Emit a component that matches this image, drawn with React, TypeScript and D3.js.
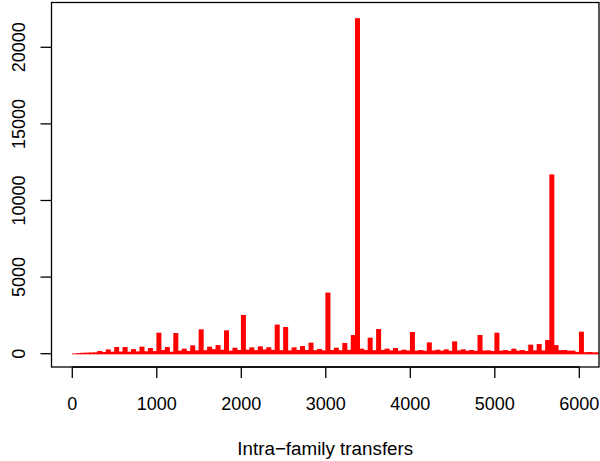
import React from "react";
import * as d3 from "d3";

// Bin starts (hundreds); each hundred holds two 50-wide bins
const hundreds = [
  0, 100, 200, 300, 400, 500, 600, 700, 800, 900,
  1000, 1100, 1200, 1300, 1400, 1500, 1600, 1700, 1800, 1900,
  2000, 2100, 2200, 2300, 2400, 2500, 2600, 2700, 2800, 2900,
  3000, 3100, 3200, 3300, 3400, 3500, 3600, 3700, 3800, 3900,
  4000, 4100, 4200, 4300, 4400, 4500, 4600, 4700, 4800, 4900,
  5000, 5100, 5200, 5300, 5400, 5500, 5600, 5700, 5800, 5900,
  6000, 6100, 6200,
];
// counts for bins [h, h+50)
const roundCounts = [
  15, 60, 80, 175, 280, 435, 435, 300, 460, 370,
  1370, 435, 1350, 330, 545, 1590, 460, 565, 1525, 390,
  2530, 415, 480, 420, 1900, 1745, 415, 500, 720, 305,
  3990, 390, 700, 1220, 330, 1045, 1610, 330, 370, 260,
  1415, 240, 740, 260, 285, 805, 285, 240, 1220, 220,
  1370, 240, 330, 240, 590, 630, 895, 565, 240, 200,
  1440, 110, 90,
];
// counts for bins [h+50, h+100)
const offCounts = [
  40, 70, 90, 110, 130, 140, 130, 150, 160, 170,
  240, 130, 200, 180, 220, 230, 300, 260, 200, 240,
  260, 230, 280, 250, 230, 220, 250, 240, 230, 220,
  240, 230, 250, 21900, 240, 230, 250, 220, 200, 210,
  200, 190, 210, 200, 190, 220, 200, 190, 210, 180,
  200, 190, 200, 180, 220, 210, 11700, 230, 200, 120,
  100, 90, 80,
];
const xTicks = [0, 1000, 2000, 3000, 4000, 5000, 6000];
const yTicks = [0, 5000, 10000, 15000, 20000];
const xTitle = "Intra\u2212family transfers";

const W = 600, H = 461;
const left = 51.5, right = 599, top = 2.5, bottom = 367;

export default function App() {
  const x = d3.scaleLinear().domain([-246, 6233]).range([left, right]);
  const y = d3.scaleLinear().domain([-868, 22923]).range([bottom, top]);
  const bins: { mid: number; v: number }[] = [];
  hundreds.forEach((h, i) => {
    bins.push({ mid: h + 25, v: roundCounts[i] });
    bins.push({ mid: h + 75, v: offCounts[i] });
  });
  const font = "'Liberation Sans', Arial, Helvetica, sans-serif";
  const bw = 5;
  return (
    <svg width={W} height={H} style={{ position: "absolute", left: 0, top: 0, background: "#fff" }} fontFamily={font}>
      <defs>
        <clipPath id="plotclip">
          <rect x={left} y={top} width={right - left} height={bottom - top} />
        </clipPath>
      </defs>
      <g clipPath="url(#plotclip)" fill="#ff0000">
        {bins.map((b, i) => (
          <rect key={i} x={x(b.mid) - bw / 2} width={bw} y={y(b.v)} height={y(0) - y(b.v) + 0.6} />
        ))}
      </g>
      <rect x={left} y={top} width={right - left} height={bottom - top} fill="none" stroke="#000" strokeWidth={1.3} />
      {/* x axis */}
      <line x1={x(0)} x2={x(6000)} y1={bottom} y2={bottom} stroke="#000" strokeWidth={1.3} />
      {xTicks.map((t) => (
        <g key={t}>
          <line x1={x(t)} x2={x(t)} y1={bottom} y2={bottom + 11} stroke="#000" strokeWidth={1.3} />
          <text x={x(t)} y={410} fontSize={18} textAnchor="middle">{t}</text>
        </g>
      ))}
      {/* y axis */}
      {yTicks.map((t) => (
        <g key={t}>
          <line x1={left - 11} x2={left} y1={y(t)} y2={y(t)} stroke="#000" strokeWidth={1.3} />
          <text transform={`translate(25,${y(t)}) rotate(-90)`} fontSize={18} textAnchor="middle">{t}</text>
        </g>
      ))}
      <text x={(left + right) / 2} y={455} fontSize={18.8} textAnchor="middle">{xTitle}</text>
    </svg>
  );
}
